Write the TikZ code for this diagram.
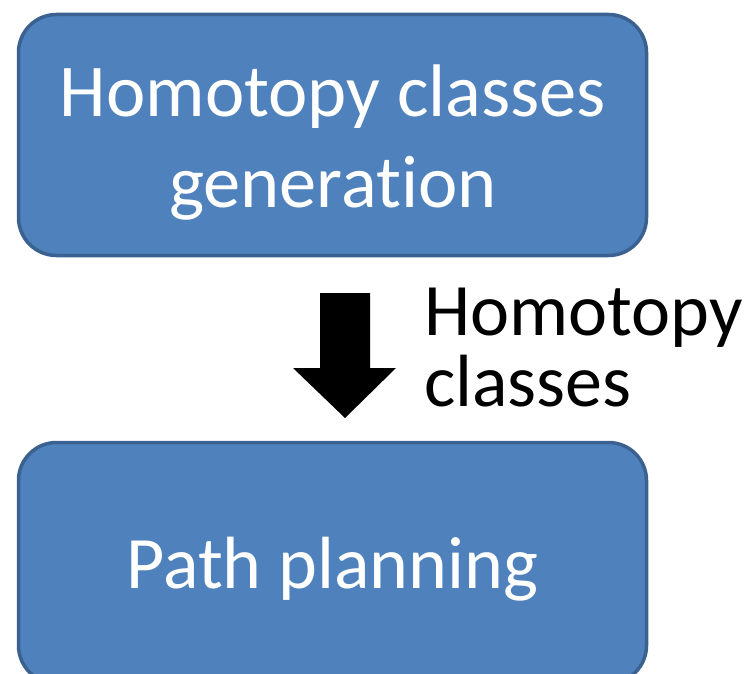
\documentclass[tikz,border=0pt]{standalone}
\usepackage{fontspec}
\setmainfont{Carlito}[Ligatures=NoCommon]
\definecolor{boxfill}{HTML}{4F81BD}
\definecolor{boxborder}{HTML}{3A6190}
\begin{document}
\begin{tikzpicture}[x=1pt,y=-1pt,
  box/.style={draw=boxborder, line width=3.5pt, fill=boxfill, rounded corners=38pt,
    minimum width=628pt, minimum height=241pt, inner sep=0pt},
  boxtext/.style={text=white, inner sep=0pt, align=center},
  lbl/.style={text=black, inner sep=0pt, align=left}]
\useasboundingbox (0,0) rectangle (749,674);
\clip (0,0) rectangle (749,674);
\node[box] (gen) at (332.5,135) {};
\node[boxtext, anchor=base, font=\fontsize{74.5}{91}\selectfont] (gentext) at (333,207) {Homotopy classes\\generation};
\node[box] (plan) at (332.5,563) {};
\node[boxtext, anchor=base, font=\fontsize{74}{88}\selectfont] (plantext) at (332.5,588) {Path planning};
\fill[black] (320,293) -- (370,293) -- (370,368) -- (396,368) -- (345,418) -- (293,368) -- (320,368) -- cycle;
\node[lbl, anchor=base west, font=\fontsize{74}{71}\selectfont] (lab) at (424,406) {Homotopy\\classes};
\end{tikzpicture}
\end{document}
